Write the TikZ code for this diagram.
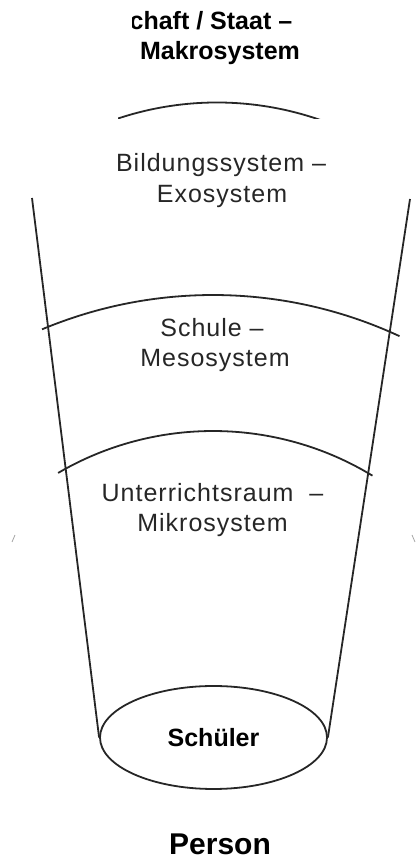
\documentclass[tikz,border=0pt]{standalone}
\usepackage{fontspec}
\setmainfont{Liberation Sans}
\usetikzlibrary{shapes.geometric,calc}
\begin{document}
\begin{tikzpicture}[x=1pt,y=1pt,
  reg/.style={font=\fontsize{25}{30}\selectfont\addfontfeature{LetterSpace=4}, inner sep=0pt, anchor=base, text=black!85},
  bld/.style={font=\fontsize{25}{30}\selectfont\bfseries, inner sep=0pt, anchor=base},
  ln/.style={line width=1.8pt, black!85},
  tick/.style={line width=0.8pt, black!35}]
\useasboundingbox (0,0) rectangle (417,861);

% centre of the lower rings
\coordinate (c) at (213,123);
\coordinate (ctop) at (217,444.5);

% person ellipse
\node[ellipse, draw, line width=1.8pt, draw=black!85, minimum width=227pt, minimum height=103pt, inner sep=0pt,
      font=\fontsize{25}{30}\selectfont\bfseries] (s) at (213.5,123.5) {Schüler};

% cone sides
\coordinate (lt) at (32,663);
\coordinate (rt) at (410,662);
\draw[ln] (lt) -- (s.west);
\draw[ln] (rt) -- (s.east);

% ring boundaries
\draw[ln] ($(c)+(120.3:307)$) coordinate (a3) arc[start angle=120.3, end angle=58.7, radius=307];
\draw[ln] ($(c)+(112.7:443)$) coordinate (a2) arc[start angle=112.7, end angle=65.1, radius=443];
\begin{scope}
  \clip (118,742) rectangle (322,861);
  \draw[ln] ($(ctop)+(115:314)$) coordinate (a1) arc[start angle=115, end angle=65, radius=314];
\end{scope}

% faint ticks
\coordinate (t1a) at (12,319); \coordinate (t1b) at (15,326);
\coordinate (t2a) at (412,326); \coordinate (t2b) at (415,319);
\draw[tick] (t1a) -- (t1b);
\draw[tick] (t2a) -- (t2b);

% texts
\begin{scope}
  \clip (132,831.5) rectangle (296,861);
  \node[bld, anchor=base west] (gs) at (40.5,831) {Gesellschaft / Staat –};
\end{scope}
\node[bld] (mak) at (220,801) {Makrosystem};
\node[reg] (bil) at (221,689) {Bildungssystem –};
\node[reg] (exo) at (222,658) {Exosystem};
\node[reg] (sch) at (212,524) {Schule –};
\node[reg] (mes) at (215,494) {Mesosystem};
\node[reg] (unt) at (212.5,359) {Unterrichtsraum\ \ –};
\node[reg] (mik) at (212.5,329) {Mikrosystem};
\node[font=\fontsize{30}{36}\selectfont\bfseries, inner sep=0pt, anchor=base] (per) at (220,6) {Person};
\end{tikzpicture}
\end{document}
